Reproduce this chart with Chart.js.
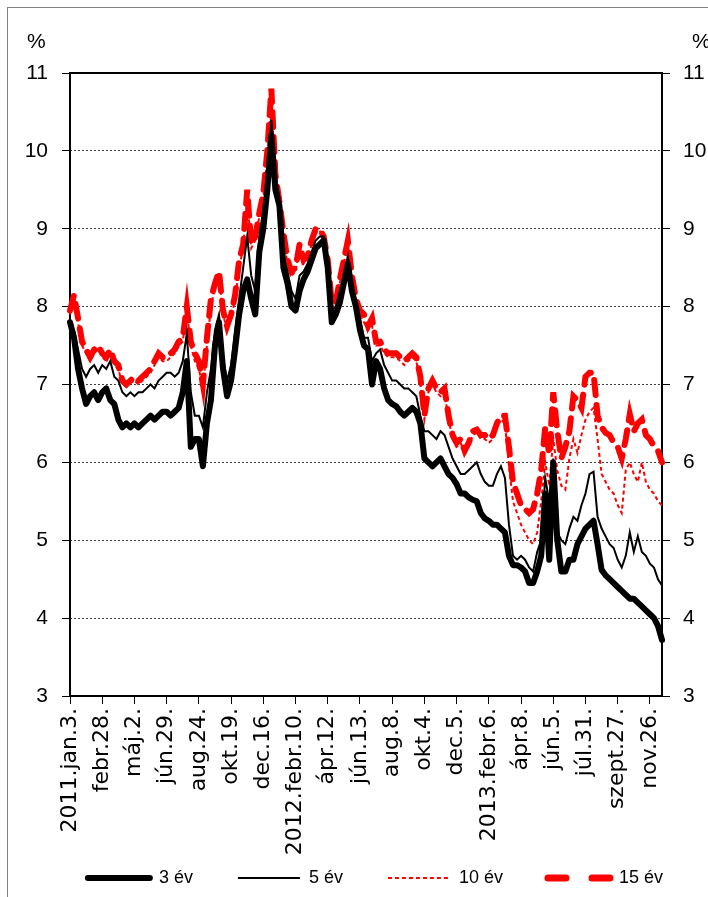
<!DOCTYPE html>
<html>
<head>
<meta charset="utf-8">
<script src="https://cdn.jsdelivr.net/npm/chart.js@4/dist/chart.umd.min.js"></script>
<style>
  html, body { margin: 0; padding: 0; background: #fff; overflow: hidden; }
  #frame { position: absolute; left: 7px; top: 7px; width: 760px; height: 960px; border: 1px solid #808080; }
  #wrap { position: absolute; left: 0; top: 0; width: 708px; height: 897px; }
</style>
</head>
<body>
<div id="frame"></div>
<div id="wrap"><canvas id="yieldChart" width="708" height="897"></canvas></div>
<script>
// tengelyfeliratok (minden 8. heti pont)
const tickLabels = ['2011.jan.3.', 'febr.28.', 'máj.2.', 'jún.29.', 'aug.24.', 'okt.19.', 'dec.16.',
  '2012.febr.10.', 'ápr.12.', 'jún.13.', 'aug.8.', 'okt.4.', 'dec.5.',
  '2013.febr.6.', 'ápr.8.', 'jún.5.', 'júl.31.', 'szept.27.', 'nov.26.'];
const yTicks = [3, 4, 5, 6, 7, 8, 9, 10, 11];

// heti hozamok, %
const y3 = [
  7.8, 7.6, 7.2, 6.95, 6.75, 6.85, 6.9, 6.8,
  6.9, 6.95, 6.8, 6.75, 6.55, 6.45, 6.5, 6.45,
  6.5, 6.45, 6.5, 6.55, 6.6, 6.55, 6.6, 6.65,
  6.65, 6.6, 6.65, 6.7, 6.9, 7.3, 6.2, 6.3,
  6.3, 5.95, 6.5, 6.8, 7.5, 7.8, 7.2, 6.85,
  7.05, 7.45, 7.9, 8.2, 8.35, 8.1, 7.9, 8.7,
  9.0, 9.5, 10.2, 9.5, 9.3, 8.5, 8.3, 8.0,
  7.95, 8.2, 8.35, 8.45, 8.6, 8.75, 8.8, 8.85,
  8.5, 7.8, 7.9, 8.05, 8.3, 8.55, 8.2, 8.0,
  7.7, 7.5, 7.45, 7.0, 7.3, 7.2, 6.95, 6.8,
  6.75, 6.72, 6.65, 6.6, 6.65, 6.7, 6.65, 6.5,
  6.05, 6.0, 5.95, 6.0, 6.05, 5.95, 5.85, 5.8,
  5.72, 5.6, 5.6, 5.55, 5.52, 5.5, 5.35, 5.28,
  5.25, 5.2, 5.2, 5.15, 5.1, 4.8, 4.68, 4.68,
  4.65, 4.6, 4.45, 4.45, 4.6, 4.8, 5.6, 4.75,
  6.0, 5.0, 4.6, 4.6, 4.75, 4.75, 4.95, 5.05,
  5.15, 5.2, 5.25, 4.95, 4.62, 4.55, 4.5, 4.45,
  4.4, 4.35, 4.3, 4.25, 4.25, 4.2, 4.15, 4.1,
  4.05, 4.0, 3.9, 3.72
];
const y5 = [
  7.75, 7.7, 7.45, 7.2, 7.1, 7.2, 7.25, 7.15,
  7.25, 7.2, 7.3, 7.1, 7.05, 6.9, 6.85, 6.9,
  6.85, 6.9, 6.9, 6.95, 7.0, 6.95, 7.05, 7.1,
  7.15, 7.15, 7.1, 7.15, 7.3, 7.65, 6.9, 6.6,
  6.6, 6.45, 6.9, 7.2, 7.7, 7.9, 7.35, 7.05,
  7.25, 7.7, 8.1, 8.5, 8.9, 8.4, 8.2, 8.9,
  9.25, 9.7, 10.4, 9.7, 9.4, 8.65, 8.45, 8.2,
  8.1, 8.4, 8.45, 8.55, 8.7, 8.85, 8.9, 8.9,
  8.6, 7.95, 8.0, 8.2, 8.4, 8.65, 8.3, 8.05,
  7.85, 7.6, 7.6, 7.3, 7.4, 7.45, 7.25, 7.15,
  7.05, 7.05, 7.0, 6.95, 6.95, 6.9, 6.85, 6.6,
  6.4, 6.4, 6.35, 6.3, 6.4, 6.35, 6.2, 6.05,
  5.95, 5.85, 5.85, 5.9, 5.95, 6.0, 5.85, 5.75,
  5.7, 5.7, 5.85, 5.95, 5.8, 5.2, 4.8, 4.75,
  4.8, 4.75, 4.65, 4.6, 4.85, 5.0, 5.8, 5.5,
  6.05, 5.1, 5.0, 4.95, 5.15, 5.3, 5.25, 5.45,
  5.6, 5.85, 5.88, 5.3, 5.15, 5.05, 4.95, 4.9,
  4.75, 4.65, 4.8, 5.1, 4.85, 5.05, 4.85, 4.8,
  4.7, 4.65, 4.5, 4.42
];
const y10 = [
  7.9, 8.1, 7.8, 7.5, 7.4, 7.3, 7.4, 7.45,
  7.35, 7.3, 7.4, 7.25, 7.2, 7.0, 6.98, 7.02,
  7.05, 7.0, 7.05, 7.1, 7.15, 7.25, 7.35, 7.3,
  7.3, 7.35, 7.4, 7.5, 7.55, 7.95, 7.5, 7.3,
  7.2, 6.95, 7.5, 8.0, 8.25, 8.4, 7.9, 7.7,
  7.85, 8.1, 8.5, 8.75, 9.4, 8.75, 8.85, 9.15,
  9.4, 9.9, 10.7, 9.65, 9.3, 8.9, 8.55, 8.4,
  8.45, 8.75, 8.55, 8.6, 8.8, 8.95, 8.98, 8.85,
  8.55, 8.0, 8.0, 8.3, 8.55, 8.8, 8.35, 8.05,
  7.9, 7.8, 7.7, 7.75, 7.5, 7.5, 7.4, 7.35,
  7.35, 7.35, 7.3, 7.25, 7.3, 7.35, 7.3, 7.0,
  6.55, 6.9, 7.0, 6.9, 6.85, 6.9, 6.55, 6.3,
  6.2, 6.25, 6.1, 6.2, 6.35, 6.38, 6.3, 6.3,
  6.25, 6.3, 6.45, 6.55, 6.5, 5.95, 5.5, 5.35,
  5.2, 5.1, 5.0, 4.95, 5.1, 5.5, 6.0, 5.7,
  6.3, 5.9, 5.7, 5.65, 6.05, 6.3, 6.12, 6.35,
  6.55, 6.65, 6.7, 6.3, 5.85, 5.75, 5.65, 5.6,
  5.45, 5.35, 5.9, 6.0, 5.85, 5.75, 6.0, 5.75,
  5.65, 5.6, 5.5, 5.45
];
const y15 = [
  7.95, 8.15, 7.85, 7.55, 7.45, 7.35, 7.45, 7.5,
  7.4, 7.35, 7.45, 7.3, 7.25, 7.05, 7.0, 7.05,
  7.1, 7.05, 7.1, 7.15, 7.2, 7.3, 7.4, 7.35,
  7.35, 7.4, 7.45, 7.55, 7.6, 8.0, 7.55, 7.4,
  7.3, 7.0, 7.6, 8.1, 8.3, 8.45, 7.95, 7.75,
  7.9, 8.15, 8.6, 8.8, 9.5, 8.8, 8.9, 9.2,
  9.45, 10.0, 10.8, 9.7, 9.35, 8.95, 8.6, 8.45,
  8.5, 8.8, 8.6, 8.65, 8.85, 9.0, 9.0, 8.9,
  8.6, 8.05, 8.05, 8.35, 8.6, 8.85, 8.4, 8.1,
  7.95, 7.9, 7.75, 7.85, 7.55, 7.55, 7.45, 7.4,
  7.4, 7.4, 7.35, 7.3, 7.35, 7.4, 7.35, 7.1,
  6.6, 6.95, 7.05, 6.95, 6.9, 6.95, 6.6, 6.35,
  6.25, 6.3, 6.15, 6.25, 6.4, 6.42, 6.35, 6.35,
  6.3, 6.35, 6.5, 6.6, 6.6, 6.2, 5.75, 5.6,
  5.45, 5.4, 5.35, 5.4, 5.6, 5.9, 6.45, 6.1,
  6.9, 6.4, 6.05, 6.2, 6.4, 6.85, 6.8, 6.7,
  7.1, 7.15, 7.15, 6.6, 6.45, 6.38, 6.35, 6.25,
  6.2, 6.05, 6.3, 6.62, 6.4, 6.5, 6.55, 6.35,
  6.3, 6.2, 6.15, 6.0
];

const labels = y3.map((v, i) => (i % 8 === 0 ? tickLabels[i / 8] : ''));

const axisFont = { family: '"Liberation Sans", Arial, sans-serif', size: 21 };
const dateFont = { family: '"DejaVu Sans", Verdana, sans-serif', size: 22 };
const legendFont = { family: '"Liberation Sans", Arial, sans-serif', size: 18 };

// "%" a két függőleges tengely fölött
const percentLabels = {
  id: 'percentLabels',
  afterDraw(chart) {
    const ctx = chart.ctx;
    const left = chart.scales.y;
    const right = chart.scales.y2;
    ctx.save();
    ctx.font = '21px "Liberation Sans", Arial, sans-serif';
    ctx.fillStyle = '#000';
    ctx.textBaseline = 'middle';
    ctx.textAlign = 'left';
    ctx.fillText('%', left.left + 2, chart.chartArea.top - 31);
    ctx.fillText('%', right.left + 30, chart.chartArea.top - 31);
    ctx.restore();
  }
};

// jelmagyarázat: a vonalstílus az adatsorból jön, a szöveg után térköz
function legendItems(chart) {
  const items = Chart.defaults.plugins.legend.labels.generateLabels(chart);
  items.forEach(function(item) {
    const ds = chart.data.datasets[item.datasetIndex];
    item.text = ds.label + '\u2003\u2003';
    item.pointStyle = 'line';
    item.lineDash = ds.legendDash || ds.borderDash || [];
    item.lineWidth = ds.legendWidth || ds.borderWidth;
    item.lineCap = ds.borderCapStyle || 'butt';
    item.strokeStyle = ds.borderColor;
  });
  return items;
}

function yFixed(scale) { scale.ticks = yTicks.map(v => ({ value: v })); }

new Chart(document.getElementById('yieldChart'), {
  type: 'line',
  data: {
    labels: labels,
    datasets: [
      { label: '3 év', data: y3, borderColor: '#000', borderWidth: 6, legendWidth: 6, borderCapStyle: 'round', borderJoinStyle: 'round', pointRadius: 0, tension: 0, order: 1 },
      { label: '5 év', data: y5, borderColor: '#000', borderWidth: 2, pointRadius: 0, tension: 0, order: 2 },
      { label: '10 év', data: y10, borderColor: '#ff0000', borderWidth: 2, borderDash: [4, 3], pointRadius: 0, tension: 0, order: 3 },
      { label: '15 év', data: y15, borderColor: '#ff0000', borderWidth: 6, legendWidth: 7, borderDash: [15, 10], legendDash: [18, 26], borderCapStyle: 'round', pointRadius: 0, tension: 0, order: 4 }
    ]
  },
  options: {
    responsive: false,
    animation: false,
    layout: { padding: { left: 25, right: 0, top: 73, bottom: 0 } },
    plugins: {
      legend: {
        position: 'bottom',
        align: 'end',
        labels: {
          usePointStyle: true,
          pointStyleWidth: 62,
          generateLabels: legendItems,
          color: '#000',
          font: legendFont,
          padding: 9
        }
      },
      tooltip: { enabled: false }
    },
    scales: {
      x: {
        type: 'category',
        afterFit: function(scale) { scale.height = 164; },
        ticks: {
          autoSkip: false,
          minRotation: 90,
          maxRotation: 90,
          padding: 4,
          color: '#000',
          font: dateFont,
          callback: function(value, index) {
            return labels[index] === '' ? null : labels[index];
          }
        },
        grid: { display: true, drawOnChartArea: false, drawTicks: true, tickLength: 8, color: '#000', lineWidth: 1 },
        border: { display: true, color: '#000', width: 2 }
      },
      xTop: {
        type: 'category',
        position: 'top',
        ticks: { display: false },
        grid: { display: false, drawTicks: false },
        border: { display: true, color: '#000', width: 2 }
      },
      y: {
        position: 'left',
        min: 3,
        max: 11,
        afterBuildTicks: yFixed,
        afterFit: function(scale) { scale.width = 45; },
        ticks: { color: '#000', font: axisFont, padding: 14 },
        grid: { drawOnChartArea: false, drawTicks: true, tickLength: 8, color: '#000', lineWidth: 1 },
        border: { display: true, color: '#000', width: 2 }
      },
      y2: {
        position: 'right',
        min: 3,
        max: 11,
        afterBuildTicks: yFixed,
        afterFit: function(scale) { scale.width = 46; },
        ticks: { color: '#000', font: axisFont, padding: 13 },
        grid: { drawOnChartArea: false, drawTicks: true, tickLength: 8, color: '#000', lineWidth: 1 },
        border: { display: true, color: '#000', width: 2 }
      },
      yGrid: {
        position: 'left',
        min: 3,
        max: 11,
        afterBuildTicks: yFixed,
        afterFit: function(scale) { scale.width = 0; },
        ticks: { display: false },
        grid: {
          drawTicks: false,
          color: function(c) { return (c.tick && (c.tick.value === 3 || c.tick.value === 11)) ? 'rgba(0,0,0,0)' : '#404040'; },
          lineWidth: 1
        },
        border: { display: false, dash: [2, 2] }
      }
    }
  },
  plugins: [percentLabels]
});
</script>
</body>
</html>
